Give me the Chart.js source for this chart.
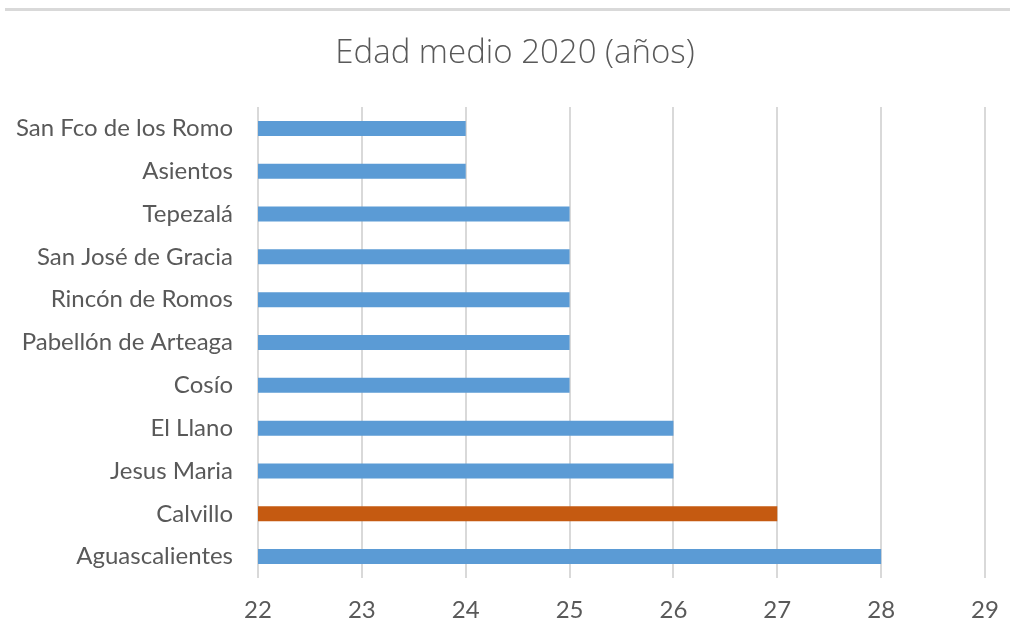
<!DOCTYPE html>
<html>
<head>
<meta charset="utf-8">
<script src="https://cdn.jsdelivr.net/npm/chart.js@4/dist/chart.umd.min.js"></script>
<style>
  html, body { margin: 0; padding: 0; background: #ffffff; }
  #wrap { position: relative; width: 1010px; height: 641px; }
</style>
</head>
<body>
<div id="wrap"><canvas id="c" width="1010" height="641"></canvas></div>
<script>
const categories = ['San Fco de los Romo', 'Asientos', 'Tepezalá', 'San José de Gracia', 'Rincón de Romos',
  'Pabellón de Arteaga', 'Cosío', 'El Llano', 'Jesus Maria', 'Calvillo', 'Aguascalientes'];
const edadMedia = [24, 24, 25, 25, 25, 25, 25, 26, 26, 27, 28];
const highlighted = 'Calvillo';
const xMin = 22, xMax = 29, xStep = 1;
const chartTitle = 'Edad medio 2020 (años)';

const BLUE = '#5B9BD5', ORANGE = '#C55A11', TXT = '#595959', GRID = '#D9D9D9';

const topLine = {
  id: 'topLine',
  beforeDraw(chart) {
    const ctx = chart.ctx;
    ctx.save();
    ctx.fillStyle = '#D9D9D9';
    ctx.fillRect(5, 8, 1005, 3);
    ctx.restore();
  }
};

new Chart(document.getElementById('c'), {
  type: 'bar',
  data: {
    labels: categories,
    datasets: [{
      data: edadMedia,
      backgroundColor: categories.map(c => c === highlighted ? ORANGE : BLUE),
      barPercentage: 0.7,
      categoryPercentage: 0.5,
      borderWidth: 0
    }]
  },
  options: {
    indexAxis: 'y',
    responsive: false,
    animation: false,
    layout: { padding: { left: 20, right: 0, top: 0, bottom: 0 } },
    plugins: {
      legend: { display: false },
      tooltip: { enabled: false },
      title: {
        display: true,
        text: chartTitle,
        color: TXT,
        font: { family: 'Open Sans', size: 33, weight: '300' },
        padding: { top: 34, bottom: 33.4 }
      }
    },
    scales: {
      x: {
        min: xMin, max: xMax,
        ticks: { stepSize: xStep, color: TXT, font: { family: 'Lato', size: 24 }, padding: 18 },
        grid: { color: GRID, lineWidth: 2, drawTicks: false },
        border: { display: false },
        afterFit(scale) { scale.height = 63; scale.paddingLeft = 0; scale.paddingRight = 25; }
      },
      y: {
        ticks: { color: TXT, font: { family: 'Lato', size: 24 }, padding: 25 },
        grid: { display: false, drawTicks: false },
        border: { display: false },
        afterFit(scale) {
          scale.width = 238;
          // let long category labels extend into the left margin instead of being clipped
          scale._computeLabelArea = () => undefined;
        }
      }
    }
  },
  plugins: [topLine]
});
</script>
</body>
</html>
